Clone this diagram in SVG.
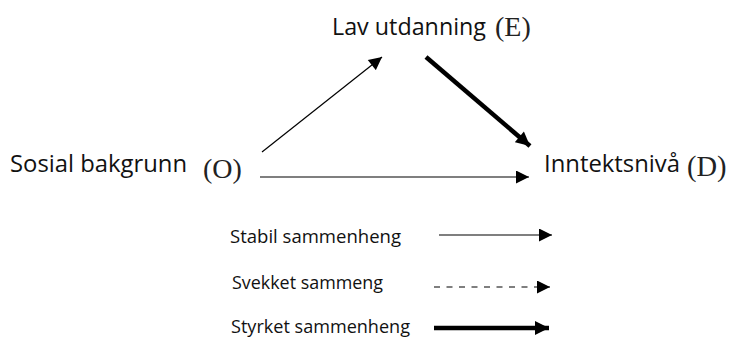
<svg xmlns="http://www.w3.org/2000/svg" width="730" height="338" viewBox="0 0 730 338">
<style>
.lbl{font-family:"Open Sans","Liberation Sans",sans-serif;font-size:23.5px;fill:#111}
.par{font-family:"Liberation Serif",serif;fill:#222}
.leg{font-family:"Open Sans","Liberation Sans",sans-serif;font-size:18px;fill:#111}
.thin{stroke:#000;stroke-width:1.2;fill:none}
.thick{stroke:#000;stroke-width:4.5;fill:none}
</style>
<defs>
<marker id="ah" viewBox="0 0 10 10" refX="10" refY="5" markerWidth="15" markerHeight="13" markerUnits="userSpaceOnUse" orient="auto"><path d="M0,0 L10,5 L0,10 z" fill="#000"/></marker>
<marker id="ahk" viewBox="0 0 10 10" refX="10" refY="5" markerWidth="15" markerHeight="14" markerUnits="userSpaceOnUse" orient="auto"><path d="M0,0 L10,5 L0,10 z" fill="#000"/></marker>
</defs>
<rect width="730" height="338" fill="#fff"/>
<g id="node-E"><text class="lbl" x="332" y="35" textLength="154" lengthAdjust="spacingAndGlyphs">Lav utdanning</text><text class="par" x="495" y="36" font-size="28">(E)</text></g>
<g id="node-O"><text class="lbl" x="10" y="172" textLength="177" lengthAdjust="spacingAndGlyphs">Sosial bakgrunn</text><text class="par" x="203" y="178" font-size="28">(O)</text></g>
<g id="node-D"><text class="lbl" x="544" y="172" textLength="136" lengthAdjust="spacingAndGlyphs">Inntektsnivå</text><text class="par" x="687" y="176" font-size="28.5">(D)</text></g>
<g id="connectors">
<line class="thin" x1="262" y1="152" x2="382" y2="57" marker-end="url(#ah)"/>
<line class="thick" x1="426" y1="57" x2="530" y2="146" marker-end="url(#ahk)"/>
<line class="thin" x1="260" y1="177" x2="529" y2="177" marker-end="url(#ah)"/>
</g>
<g id="legend">
<text class="leg" x="230" y="243" textLength="171" lengthAdjust="spacingAndGlyphs">Stabil sammenheng</text>
<line class="thin" x1="439" y1="235" x2="552" y2="235" stroke-width="1.4" marker-end="url(#ah)"/>
<text class="leg" x="232" y="289" textLength="151" lengthAdjust="spacingAndGlyphs">Svekket sammeng</text>
<line class="thin" x1="434" y1="287" x2="550" y2="287" stroke-width="1.6" stroke-dasharray="6,6.5" marker-end="url(#ah)"/>
<text class="leg" x="231" y="333" textLength="179" lengthAdjust="spacingAndGlyphs">Styrket sammenheng</text>
<line class="thick" x1="434" y1="328" x2="549" y2="328" stroke-width="5" marker-end="url(#ahk)"/>
</g>
</svg>
